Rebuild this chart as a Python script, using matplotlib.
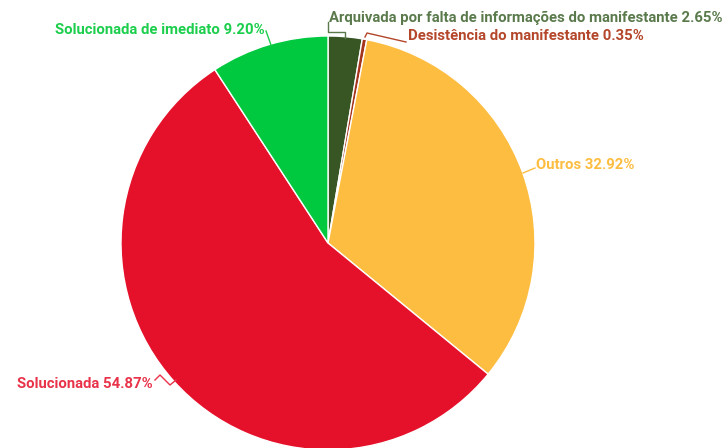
import numpy as np
import matplotlib.pyplot as plt

labels = ["Arquivada por falta de informações do manifestante", "Desistência do manifestante",
          "Outros", "Solucionada", "Solucionada de imediato"]
values = [2.65, 0.35, 32.92, 54.87, 9.20]
colors = ["#375623", "#a5341c", "#fdbd41", "#e5112b", "#00c940"]
text_colors = ["#5a7a4c", "#b4462a", "#fdbd41", "#e8334a", "#1cce4c"]

W, H = 726, 448
fig = plt.figure(figsize=(W / 100, H / 100), dpi=100)
ax = fig.add_axes([0, 0, 1, 1])

cx, cy, r = 328, 243, 207
# axes use pixel coords with y pointing down, so -90 is "up" and counterclock is visually clockwise
wedges, _ = ax.pie(values, colors=colors, startangle=-90, counterclock=True,
                   radius=r, center=(cx, cy),
                   wedgeprops=dict(edgecolor="white", linewidth=1.0))
ax.set_xlim(0, W)
ax.set_ylim(H, 0)
ax.set_aspect("equal")
ax.axis("off")

# leader lines (pixel coordinates, y down)
leaders = [
    [(345, 38), (345, 32), (328, 32), (328, 22)],
    [(365, 37), (367, 33), (406, 42)],
    [(523, 173), (535, 168)],
    [(176, 380), (170, 385), (160, 375), (155, 380)],
    [(271, 45), (266, 31)],
]
texts = [(329, 18, "left"), (408, 36, "left"), (536, 165, "left"),
         (153, 384, "right"), (265, 30, "right")]

for lab, v, tc, ln, (tx, ty, ha) in zip(labels, values, text_colors, leaders, texts):
    xs, ys = zip(*ln)
    ax.plot(xs, ys, color=tc, lw=1.0)
    ax.text(tx, ty, f"{lab} {v:.2f}%", color=tc, ha=ha, va="center",
            fontsize=10.7, family="Roboto", fontweight="bold")

fig.savefig("out.png", dpi=100)
